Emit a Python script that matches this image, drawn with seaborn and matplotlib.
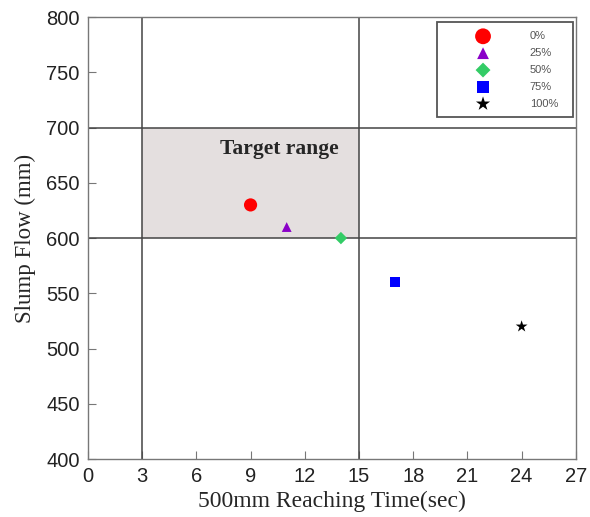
import matplotlib
matplotlib.use("Agg")
import matplotlib.pyplot as plt
import seaborn as sns
import pandas as pd
from matplotlib.patches import Rectangle

labels = ["0%", "25%", "50%", "75%", "100%"]
reach_time = [9, 11, 14, 17, 24]
slump_flow = [630, 610, 600, 560, 520]
colors = ["#ff0000", "#8a00c8", "#33cc66", "#0000ff", "#000000"]
markers = ["o", "^", "D", "s", "*"]
sizes = [90, 50, 40, 55, 80]
x_ticks = [0, 3, 6, 9, 12, 15, 18, 21, 24, 27]
y_ticks = [400, 450, 500, 550, 600, 650, 700, 750, 800]

df = pd.DataFrame({"label": labels, "x": reach_time, "y": slump_flow})

sns.set_style("ticks")
plt.rcParams["font.family"] = ["Liberation Sans", "DejaVu Sans"]

fig = plt.figure(figsize=(5.9, 5.17), dpi=100)
ax = fig.add_axes([0.149, 0.112, 0.827, 0.855])

ax.add_patch(Rectangle((3, 600), 12, 100, facecolor="#e4dfdf", edgecolor="none", zorder=0))
for xv in [3, 15]:
    ax.axvline(xv, color="#444444", lw=1.1, zorder=1)
for yv in [600, 700]:
    ax.axhline(yv, color="#444444", lw=1.1, zorder=1)

for i, row in df.iterrows():
    sns.scatterplot(x=[row["x"]], y=[row["y"]], ax=ax, color=colors[i], marker=markers[i],
                    s=sizes[i], edgecolor="none", label=row["label"], zorder=3)

ax.text(10.6, 681, "Target range", family="Liberation Serif", fontweight="bold",
        fontsize=15.5, ha="center", va="center", zorder=2)

ax.set_xlim(0, 27)
ax.set_ylim(400, 800)
ax.set_xticks(x_ticks)
ax.set_yticks(y_ticks)
ax.tick_params(direction="in", length=6, color="#777777", labelsize=14.5, labelcolor="#222222", pad=6)
for s in ax.spines.values():
    s.set_color("#777777")
    s.set_linewidth(1.0)
ax.set_xlabel("500mm Reaching Time(sec)", family="Liberation Serif", fontsize=17, labelpad=3)
ax.set_ylabel("Slump Flow (mm)", family="Liberation Serif", fontsize=16.5, labelpad=7)

# legend frame drawn separately for asymmetric padding
ax.add_patch(Rectangle((0.715, 0.774), 0.279, 0.215, transform=ax.transAxes,
                       facecolor="white", edgecolor="#555555", lw=1.3, zorder=4))
leg = ax.legend(loc="upper left", bbox_to_anchor=(0.787, 0.968), fontsize=8, frameon=False,
                borderpad=0, borderaxespad=0, labelspacing=0.62, handlelength=2.0,
                handletextpad=3.2, markerscale=1.2)
leg.set_zorder(5)
for t in leg.get_texts():
    t.set_color("#555555")

fig.savefig("out.png", dpi=100)
